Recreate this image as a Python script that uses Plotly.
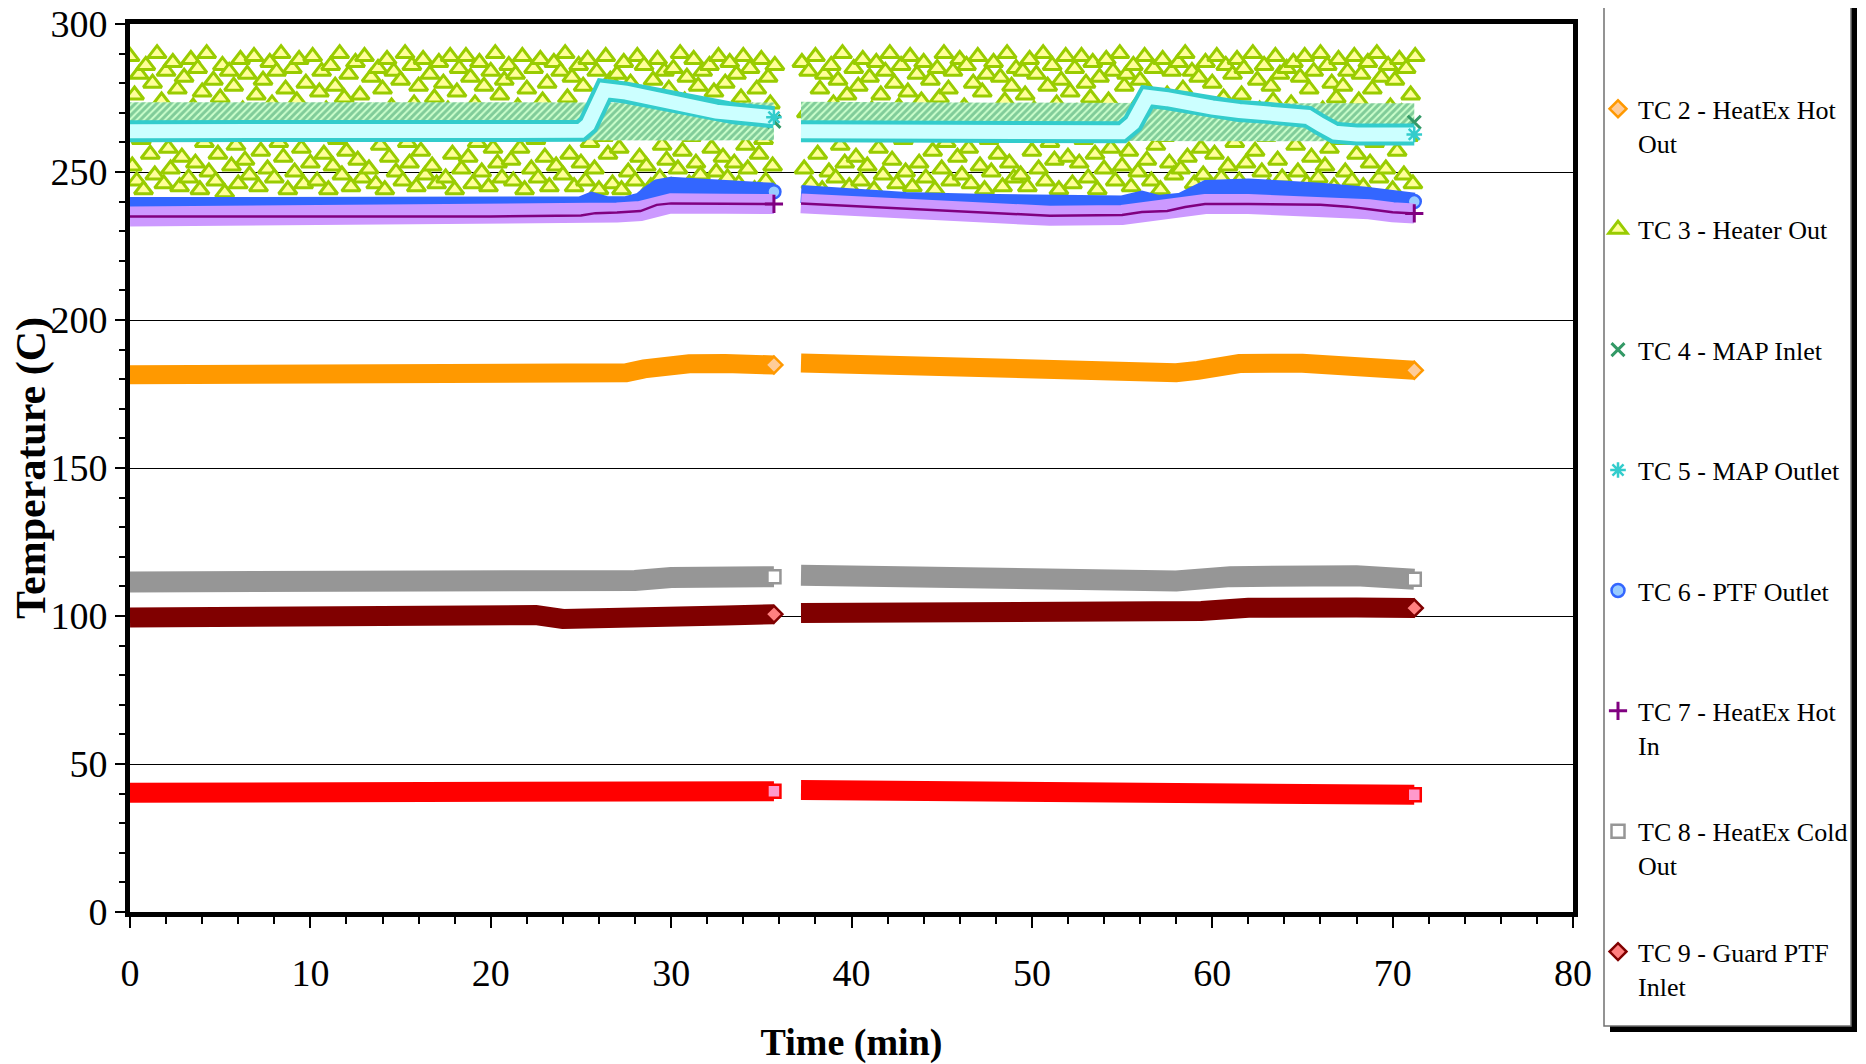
import plotly.graph_objects as go

# ---------------------------------------------------------------- data
X_TICKS = [0, 10, 20, 30, 40, 50, 60, 70, 80]
Y_TICKS = [0, 50, 100, 150, 200, 250, 300]

NAMES = [
    "TC 1 - Heater In<br> ",
    "TC 2 - HeatEx Hot<br>Out",
    "TC 3 - Heater Out<br> ",
    "TC 4 - MAP Inlet<br> ",
    "TC 5 - MAP Outlet<br> ",
    "TC 6 - PTF Outlet<br> ",
    "TC 7 - HeatEx Hot<br>In",
    "TC 8 - HeatEx Cold<br>Out",
    "TC 9 - Guard PTF<br>Inlet",
]

# smooth channels: time (min) / temperature (C); None marks the logging gap
TC1_TIME = [0, 5, 10, 15, 20, 25, 30, 35.7, None, 37.2, 45, 50, 55, 60, 65, 71.2]
TC1_TEMP = [40.3, 40.5, 41.0, 41.2, 41.0, 40.6, 40.6, 40.8, None, 41.2, 41.2, 40.8, 40.3, 40.0, 39.7, 39.6]

TC2_TIME = [0, 5, 10, 15, 20, 22, 24, 26, 27.5, 28.5, 29.5, 31, 33, 35.7, None,
            37.2, 40, 43, 46, 50, 55, 58, 59.2, 60.3, 61.5, 65, 68, 70, 71.2]
TC2_TEMP = [181.5, 181.5, 181.8, 181.8, 181.8, 181.2, 180.8, 181.3, 182.2, 183.5, 184.6, 185.2, 185.3, 184.8, None,
            185.5, 185.0, 184.0, 183.2, 182.8, 182.3, 182.2, 183.0, 184.6, 185.3, 185.4, 185.0, 184.0, 183.0]

# TC3 is very noisy: readings every 7.5 s
TC3_START_A = 0.0
TC3_START_B = 37.25
TC3_STEP = 0.125
TC3_TEMP_A = [
    289, 252, 276, 247, 283, 261, 244, 286, 270, 256, 280, 249, 290, 265, 274, 246, 284, 258, 251, 287, 268, 278, 245, 255,
    282, 263, 248, 288, 272, 253, 285, 244, 277, 260, 290, 250, 266, 281, 247, 256, 275, 286, 243, 269, 284, 252, 279, 259,
    246, 288, 271, 254, 283, 249, 262, 289, 276, 245, 257, 281, 267, 251, 287, 273, 248, 284, 260, 290, 255, 278, 244, 265,
    285, 250, 274, 288, 258, 246, 280, 269, 253, 289, 263, 247, 277, 284, 256, 271, 244, 286, 252, 279, 261, 290, 249, 275,
    257, 283, 245, 268, 287, 254, 276, 248, 289, 264, 251, 282, 270, 246, 285, 259, 278, 244, 288, 255, 272, 284, 250, 266,
    281, 247, 290, 260, 253, 286, 273, 245, 279, 257, 288, 249, 267, 283, 252, 275, 246, 287, 262, 280, 248, 271, 289, 256,
    244, 277, 285, 251, 268, 289, 255, 282, 246, 273, 260, 287, 250, 279, 264, 245, 284, 258, 290, 253, 276, 248, 281, 269,
    286, 254, 247, 283, 272, 258, 289, 244, 278, 266, 251, 285, 261, 248, 288, 274, 255, 280, 245, 269, 287, 252, 263, 284,
    249, 290, 275, 256, 282, 245, 267, 286, 253, 279, 247, 288, 260, 272, 251, 284, 244, 277, 262, 289, 256, 281, 246, 270,
    283, 258, 244, 287, 265, 250, 280, 273, 247, 289, 255, 276, 286, 252, 263, 245, 281, 270, 288, 248, 259, 284, 254, 278,
    245, 285, 268, 251, 290, 257, 274, 282, 246, 262, 288, 253, 279, 249, 284, 271, 244, 286, 258, 277, 250, 289, 266, 255,
    280, 248, 287, 264, 253, 283, 246, 275, 289, 259, 251, 285, 270, 244, 278, 256, 288, 261, 247, 282, 273, 252, 286,
]
TC3_TEMP_B = [
    287, 251, 270, 284, 246, 262, 289, 256, 278, 244, 283, 267, 250, 286, 273, 248, 281, 259, 290, 253, 276, 245, 268, 285,
    255, 279, 247, 288, 264, 252, 282, 271, 244, 287, 258, 276, 249, 284, 266, 290, 254, 280, 246, 272, 286, 261, 250, 277,
    289, 245, 263, 283, 253, 274, 287, 248, 269, 281, 257, 244, 285, 275, 251, 290, 260, 278, 247, 284, 266, 255, 288, 249,
    272, 286, 258, 246, 280, 265, 289, 252, 277, 244, 283, 261, 250, 287, 270, 256, 282, 245, 274, 290, 253, 279, 248, 285,
    262, 249, 284, 276, 245, 288, 257, 271, 283, 251, 266, 290, 247, 279, 260, 286, 254, 273, 244, 281, 268, 289, 255, 277,
    246, 285, 270, 253, 289, 261, 280, 248, 275, 287, 256, 244, 282, 267, 251, 288, 274, 258, 284, 247, 263, 290, 252, 279,
    283, 257, 245, 286, 272, 250, 281, 264, 289, 254, 277, 247, 285, 259, 270, 244, 288, 262, 276, 253, 284, 249, 267, 287,
    251, 278, 290, 255, 265, 284, 246, 273, 282, 258, 249, 287, 269, 244, 280, 256, 289, 263, 248, 275, 286, 252, 271, 283,
    260, 288, 247, 276, 285, 253, 268, 244, 290, 257, 281, 271, 250, 286, 262, 245, 279, 274, 289, 254, 283, 248, 266, 285,
    244, 273, 287, 259, 250, 282, 267, 289, 246, 278, 255, 284, 263, 248, 290, 271, 252, 286, 258, 280, 245, 275, 288, 261,
    279, 250, 284, 266, 247, 289, 256, 274, 283, 245, 269, 287, 253, 278, 260, 290, 248, 282, 264, 251, 286, 272, 244, 281,
    257, 288, 270, 249, 285, 262, 276, 246, 289,
]

TC4_TIME = [0, 10, 20, 30, 35.7, None, 37.2, 50, 60, 71.2]
TC4_TEMP = [267.2, 267.3, 267.2, 267.0, 267.1, None, 267.3, 267.0, 266.8, 266.8]

TC5_TIME = [0, 10, 20, 25, 25.4, 25.8, 26.3, 27.5, 28.5, 29.5, 30.5, 31.5, 32.5, 33.5, 34.5, 35.7, None,
            37.2, 45, 50, 55, 55.6, 56.0, 56.4, 57.5, 58.5, 60, 61.5, 63, 64.5, 65.3, 66.0, 66.8, 68, 71.2]
TC5_TEMP = [263.8, 263.8, 263.8, 263.9, 266.0, 272.0, 277.7, 276.8, 275.4, 273.8, 272.4, 271.2, 270.4, 269.8, 269.2, 268.5, None,
            263.8, 263.6, 263.4, 263.4, 266.5, 272.5, 275.4, 274.6, 273.2, 271.8, 270.6, 270.0, 269.4, 268.6, 266.0, 263.3, 262.7, 262.7]

TC6_TIME = [0, 10, 20, 25, 25.6, 26.4, 27.5, 28.3, 28.8, 29.3, 30, 32, 34, 35.7, None,
            37.2, 40, 43, 47, 51, 55, 56.1, 57, 58.3, 59, 59.7, 62, 64, 66, 68.5, 70, 71.2]
TC6_TEMP = [238.5, 238.6, 238.6, 238.7, 240.2, 238.8, 238.8, 240.0, 242.5, 244.6, 245.3, 245.0, 244.2, 243.3, None,
            242.6, 240.9, 240.2, 239.6, 239.2, 239.0, 240.6, 239.2, 240.0, 242.5, 244.3, 244.8, 244.6, 243.3, 242.0, 240.3, 240.0]

TC7_TIME = [0, 10, 20, 25, 25.8, 27, 28.3, 29.2, 30, 33, 35.7, None,
            37.2, 40, 43, 47, 51, 55, 56.1, 57.5, 58.5, 59.6, 62, 66, 67.5, 68.7, 70, 71.2]
TC7_TEMP = [235.0, 235.0, 235.0, 235.3, 236.1, 236.3, 236.8, 238.9, 239.4, 239.3, 239.2, None,
            239.4, 238.5, 237.7, 236.5, 235.2, 235.5, 236.5, 236.8, 238.2, 239.2, 239.2, 238.9, 238.3, 237.4, 236.4, 236.0]

TC8_TIME = [0, 5, 10, 15, 20, 25, 28, 30, 33, 35.7, None, 37.2, 40, 45, 50, 55, 58, 61, 64, 68, 71.2]
TC8_TEMP = [111.5, 111.3, 111.5, 112.0, 112.0, 111.5, 112.0, 113.0, 113.5, 113.3, None,
            113.8, 113.5, 112.5, 112.2, 111.8, 111.8, 113.3, 114.0, 113.6, 112.4]

TC9_TIME = [0, 5, 10, 15, 18, 21, 22.5, 24, 26, 28, 30, 33, 35.7, None,
            37.2, 40, 45, 50, 53.5, 54.5, 55.5, 57, 59.4, 62, 64, 66, 68, 71.2]
TC9_TEMP = [99.5, 99.6, 99.9, 100.3, 100.8, 100.8, 100.3, 99.0, 98.9, 99.2, 99.7, 100.2, 100.6, None,
            101.0, 101.0, 101.3, 101.6, 102.0, 101.6, 100.4, 100.7, 101.7, 102.8, 103.3, 103.2, 102.9, 102.7]

# ---------------------------------------------------------------- layout geometry
FONT = "Liberation Serif"
OFF = 8                      # default page margin of the html body
W, H = 1866 - OFF, 1064 - OFF
ML, MR, MT, MB = 130 - OFF, 293, 24 - OFF, 152
PW, PH = W - ML - MR, H - MT - MB


def pxx(sx):
    """screen x (px) -> paper x"""
    return (sx - OFF - ML) / PW


def pxy(sy):
    """screen y (px) -> paper y"""
    return 1 - (sy - OFF - MT) / PH


def segment_ends(times, temps):
    xs, ys = [], []
    for i, t in enumerate(times):
        nxt = times[i + 1] if i + 1 < len(times) else None
        if t is not None and nxt is None:
            xs.append(t)
            ys.append(temps[i])
    return xs, ys


def segments(times, temps):
    segs, ct, cv = [], [], []
    for t, v in zip(times, temps):
        if t is None:
            segs.append((ct, cv))
            ct, cv = [], []
        else:
            ct.append(t)
            cv.append(v)
    segs.append((ct, cv))
    return segs


fig = go.Figure()


def band(times, temps, color, width, group):
    fig.add_trace(go.Scatter(x=times, y=temps, mode="lines", line=dict(color=color, width=width),
                             legendgroup=group, showlegend=False, hoverinfo="skip"))


def ends(times, temps, name, group, symbol, fill, edge, lw=2.5, size=13):
    ex, ey = segment_ends(times, temps)
    fig.add_trace(go.Scatter(x=ex, y=ey, mode="markers", name=name, legendgroup=group,
                             marker=dict(symbol=symbol, size=size, color=fill, line=dict(color=edge, width=lw))))


# TC1
band(TC1_TIME, TC1_TEMP, "#ff0000", 20, "g1")
ends(TC1_TIME, TC1_TEMP, NAMES[0], "g1", "square", "#ff99cc", "#ff0000")
# TC2
band(TC2_TIME, TC2_TEMP, "#ff9900", 19, "g2")
ends(TC2_TIME, TC2_TEMP, NAMES[1], "g2", "diamond", "#ffcc99", "#ff9900")
# TC3
tc3_x = [TC3_START_A + i * TC3_STEP for i in range(len(TC3_TEMP_A))] + [None] + \
        [TC3_START_B + i * TC3_STEP for i in range(len(TC3_TEMP_B))]
tc3_y = TC3_TEMP_A + [None] + TC3_TEMP_B
fig.add_trace(go.Scatter(x=tc3_x, y=tc3_y, mode="markers", name=NAMES[2], legendgroup="g3",
                         marker=dict(symbol="triangle-up", size=16, color="#ffff99",
                                     line=dict(color="#99cc00", width=3))))
# TC4 (noisy band drawn as a hatched envelope)
TC4_HALF = 6.4
for k, (st, sv) in enumerate(segments(TC4_TIME, TC4_TEMP)):
    fig.add_trace(go.Scatter(x=st + st[::-1], y=[v + TC4_HALF for v in sv] + [v - TC4_HALF for v in sv[::-1]],
                             mode="lines", fill="toself", line=dict(width=0, color="#ccffcc"),
                             fillcolor="#ccffcc",
                             fillpattern=dict(shape="/", fgcolor="#339966", bgcolor="#ccffcc",
                                              size=5, solidity=0.6),
                             legendgroup="g4", showlegend=False, hoverinfo="skip"))
ends(TC4_TIME, TC4_TEMP, NAMES[3], "g4", "x-thin", "#339966", "#339966", lw=3)
# TC5
band(TC5_TIME, TC5_TEMP, "#33cccc", 22, "g5")
band(TC5_TIME, TC5_TEMP, "#ccffff", 14, "g5")
ends(TC5_TIME, TC5_TEMP, NAMES[4], "g5", "asterisk", "#33cccc", "#33cccc", lw=2.5)
# TC6
band(TC6_TIME, TC6_TEMP, "#3366ff", 18, "g6")
ends(TC6_TIME, TC6_TEMP, NAMES[5], "g6", "circle", "#99ccff", "#3366ff")
# TC7
band(TC7_TIME, TC7_TEMP, "#cc99ff", 20, "g7")
band(TC7_TIME, TC7_TEMP, "#800080", 2.5, "g7")
ends(TC7_TIME, TC7_TEMP, NAMES[6], "g7", "cross-thin", "#800080", "#800080", lw=3)
# TC8
band(TC8_TIME, TC8_TEMP, "#969696", 21, "g8")
ends(TC8_TIME, TC8_TEMP, NAMES[7], "g8", "square", "#ffffff", "#969696")
# TC9
band(TC9_TIME, TC9_TEMP, "#800000", 20, "g9")
ends(TC9_TIME, TC9_TEMP, NAMES[8], "g9", "diamond", "#ff8080", "#800000")

# ---------------------------------------------------------------- legend frame (shadowed box)
shapes = [
    dict(type="rect", xref="paper", yref="paper", x0=pxx(1610), x1=pxx(1857), y0=pxy(1032), y1=pxy(-60),
         fillcolor="black", line=dict(width=0), layer="above"),
    dict(type="rect", xref="paper", yref="paper", x0=pxx(1604), x1=pxx(1851), y0=pxy(1026), y1=pxy(-66),
         fillcolor="white", line=dict(color="#707070", width=1.5), layer="above"),
]

axis_common = dict(showline=True, linewidth=5, linecolor="black", mirror=True, zeroline=False,
                   tickfont=dict(family=FONT, size=38, color="black"), tickcolor="black", tickwidth=1.5,
                   ticklabeloverflow="allow")

fig.update_layout(
    width=W, height=H,
    margin=dict(l=ML, r=MR, t=MT, b=MB, autoexpand=False),
    paper_bgcolor="white", plot_bgcolor="white",
    font=dict(family=FONT, color="black"),
    showlegend=True,
    shapes=shapes,
    legend=dict(x=pxx(1598), xanchor="left", y=pxy(487), yanchor="middle",
                font=dict(family=FONT, size=26, color="black"),
                bgcolor="rgba(0,0,0,0)", borderwidth=0, valign="top",
                traceorder="grouped", tracegroupgap=49.8, itemwidth=30),
    xaxis=dict(range=[0, 80], tickvals=X_TICKS, ticktext=[str(v) for v in X_TICKS],
               ticks="outside", ticklen=11, ticklabelstandoff=12, showgrid=False,
               minor=dict(dtick=2, tick0=0, ticks="outside", ticklen=7, tickwidth=1.5, tickcolor="black",
                          showgrid=False),
               title=dict(text="<b>Time (min)</b>", font=dict(family=FONT, size=38), standoff=37),
               **axis_common),
    xaxis2=dict(range=[0, 80], overlaying="x", anchor="y", side="bottom", tickvals=X_TICKS,
                ticks="inside", ticklen=13, tickwidth=1.5, tickcolor="black",
                showticklabels=False, showline=False, showgrid=False, zeroline=False),
    yaxis=dict(range=[0, 300], tickvals=Y_TICKS, ticktext=[str(v) for v in Y_TICKS],
               ticks="outside", ticklen=10, showgrid=True, gridcolor="black", gridwidth=1,
               minor=dict(dtick=10, tick0=0, ticks="outside", ticklen=6, tickwidth=1.5, tickcolor="black",
                          showgrid=False),
               title=dict(text="<b>Temperature (C)</b>", font=dict(family=FONT, size=42), standoff=8),
               **axis_common),
)

try:
    fig.update_layout(legend_maxheight=1400)
except (ValueError, AttributeError):
    pass

fig.write_html("out.html")
